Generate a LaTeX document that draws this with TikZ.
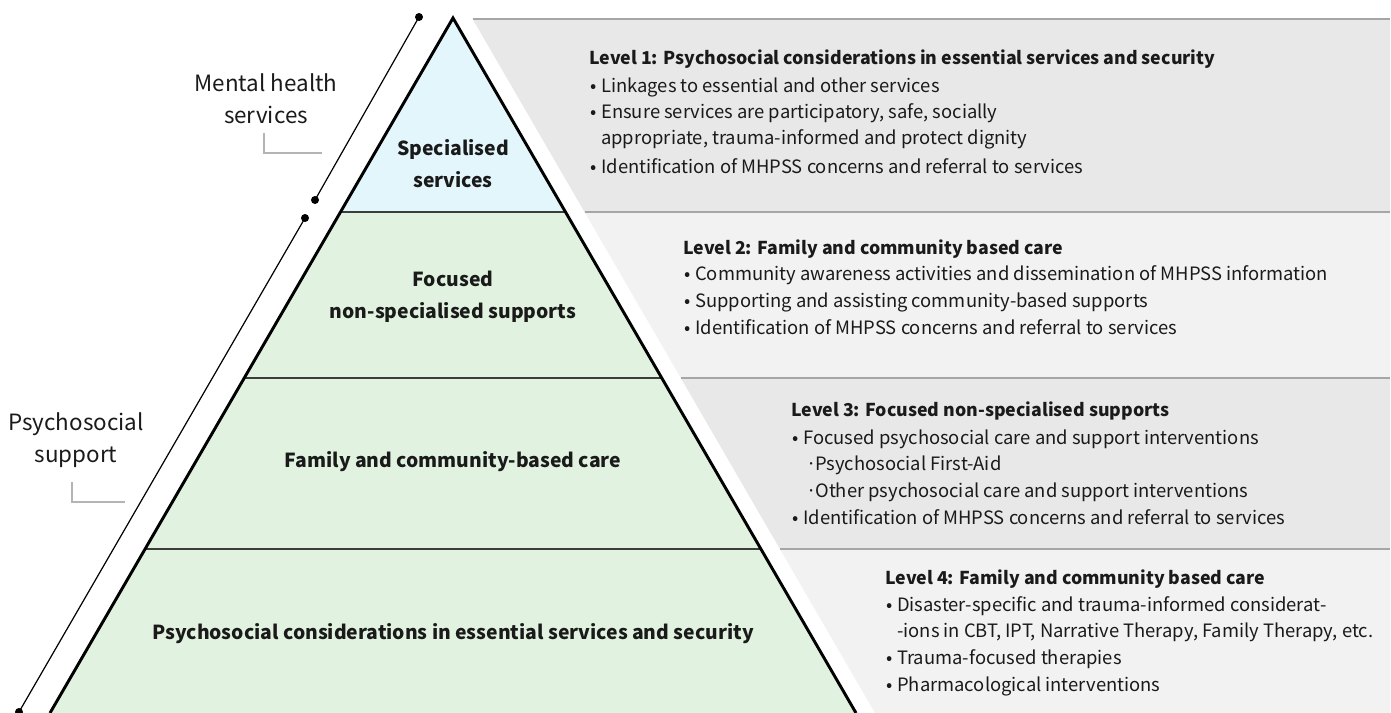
\documentclass[tikz,border=0pt]{standalone}
\usepackage{fontspec}
\setmainfont{Noto Sans CJK KR}
\definecolor{ink}{HTML}{1A1A1A}
\definecolor{skyfill}{HTML}{E2F6FC}
\definecolor{leaffill}{HTML}{E1F3E0}
\definecolor{paneldark}{HTML}{E8E8E8}
\definecolor{panellight}{HTML}{F2F2F2}
\definecolor{panelrule}{HTML}{A6A6A6}
\definecolor{divider}{HTML}{3A3D3A}
\definecolor{tick}{HTML}{B4B4B4}
\newcommand\bul{\makebox[8.2pt][l]{•}}
\newcommand\subbul{\makebox[6.8pt][l]{·}}
\begin{document}
\begin{tikzpicture}[x=0.75pt,y=-0.75pt,
  txt/.style={anchor=base west, inner sep=0pt, text=ink, font=\fontsize{13.8}{17}\selectfont},
  ttl/.style={txt, font=\fontsize{13.3}{17}\selectfont\bfseries},
  tierlabel/.style={align=center, inner sep=0pt, text=ink, font=\fontsize{14.5}{24}\selectfont\bfseries},
  sidelabel/.style={align=center, inner sep=0pt, text=ink, font=\fontsize{16.8}{24}\selectfont},
  dotn/.style={circle, fill=black, inner sep=0pt, minimum size=6pt},
  panel/.style={panelrule, line width=1.5pt},
  rangeline/.style={black, line width=0.9pt},
  bracket/.style={tick, line width=0.9pt}]
\useasboundingbox (0,0) rectangle (1391,713);

% pyramid corners and tier boundaries
\coordinate (apex) at (453,18);
\coordinate (bl) at (50,713);
\coordinate (br) at (856,713);
\coordinate (l1) at (340.5,212); \coordinate (r1) at (565.5,212);
\coordinate (l2) at (244.2,378); \coordinate (r2) at (661.8,378);
\coordinate (l3) at (145.1,549); \coordinate (r3) at (760.9,549);

% description panels
\fill[paneldark]  (472.6,19) -- (1390,19) -- (1390,212) -- (584.5,212) -- cycle;
\fill[panellight] (584.5,212) -- (1390,212) -- (1390,378) -- (680.8,378) -- cycle;
\fill[paneldark]  (680.8,378) -- (1390,378) -- (1390,549) -- (779.9,549) -- cycle;
\fill[panellight] (779.9,549) -- (1390,549) -- (1390,713) -- (875,713) -- cycle;
\draw[panel] (472.6,19) -- (1390,19);
\draw[panel] (584.5,212) -- (1390,212);
\draw[panel] (680.8,378) -- (1390,378);
\draw[panel] (779.9,549) -- (1390,549);

% pyramid tiers
\fill[skyfill] (apex) -- (r1) -- (l1) -- cycle;
\fill[leaffill] (l1) -- (r1) -- (br) -- (bl) -- cycle;
\draw[divider, line width=1.6pt] (l1) -- (r1);
\draw[divider, line width=1.6pt] (l2) -- (r2);
\draw[divider, line width=1.6pt] (l3) -- (r3);
\draw[black, line width=2.2pt, line join=miter] (bl) -- (apex) -- (br);

% tier labels
\node[tierlabel] (t1) at (453,164) {Specialised\\services};
\node[tierlabel] (t2) at (453,297) {Focused\\non-specialised supports};
\node[tierlabel] (t3) at (453,462) {Family and community-based care};
\node[tierlabel] (t4) at (453,634) {Psychosocial considerations in essential services and security};

% range markers on the left
\node[dotn] (m1) at (419,17) {};
\node[dotn] (m2) at (315,200) {};
\node[dotn] (m3) at (305,218) {};
\node[dotn] (m4) at (19,712) {};
\draw[rangeline] (m1.center) -- (m2.center);
\draw[rangeline] (m3.center) -- (m4.center);

\node[sidelabel] (s1) at (266,99) {Mental health\\services};
\node[sidelabel] (s2) at (76,440) {Psychosocial\\support};
\draw[bracket] (264,133) -- (264,153) -- (322,153);
\draw[bracket] (72,482) -- (72,502) -- (125,502);

% level 1
\node[ttl] (a0) at (589,65) {Level 1: Psychosocial considerations in essential services and security};
\node[txt] (a1) at (590,93) {\bul Linkages to essential and other services};
\node[txt] (a2) at (590,119) {\bul Ensure services are participatory, safe, socially};
\node[txt] (a3) at (590,145) {\hspace*{8.2pt}appropriate, trauma-informed and protect dignity};
\node[txt] (a4) at (590,173) {\bul Identification of MHPSS concerns and referral to services};

% level 2
\node[ttl] (b0) at (683,254) {Level 2: Family and community based care};
\node[txt] (b1) at (684,280) {\bul Community awareness activities and dissemination of MHPSS information};
\node[txt] (b2) at (684,307) {\bul Supporting and assisting community-based supports};
\node[txt] (b3) at (684,334) {\bul Identification of MHPSS concerns and referral to services};

% level 3
\node[ttl] (c0) at (791,416) {Level 3: Focused non-specialised supports};
\node[txt] (c1) at (792,444) {\bul Focused psychosocial care and support interventions};
\node[txt] (c2) at (806,470) {\subbul Psychosocial First-Aid};
\node[txt] (c3) at (806,497) {\subbul Other psychosocial care and support interventions};
\node[txt] (c4) at (792,524) {\bul Identification of MHPSS concerns and referral to services};

% level 4
\node[ttl] (d0) at (885,584) {Level 4: Family and community based care};
\node[txt] (d1) at (886,611) {\bul Disaster-specific and trauma-informed considerat-};
\node[txt] (d2) at (886,637) {\hspace*{8.2pt}-ions in CBT, IPT, Narrative Therapy, Family Therapy, etc.};
\node[txt] (d3) at (886,664) {\bul Trauma-focused therapies};
\node[txt] (d4) at (886,691) {\bul Pharmacological interventions};
\end{tikzpicture}
\end{document}
